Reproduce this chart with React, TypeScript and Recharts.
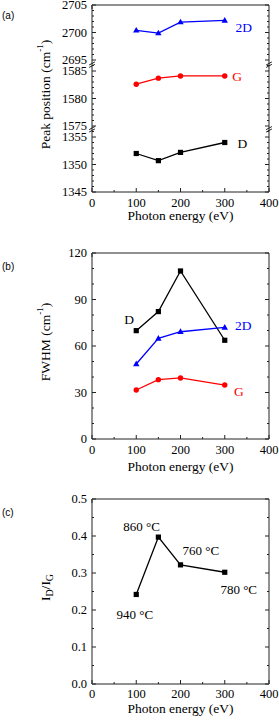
import React from 'react';
import { LineChart, Line, XAxis, YAxis, ReferenceLine, ReferenceDot, Label } from 'recharts';

// ---------- data ----------
const photonEnergy = [100, 150, 200, 300];
const peak2D = [2700.4, 2699.9, 2701.9, 2702.2];
const peakG = [1582.6, 1583.7, 1584.1, 1584.1];
const peakD = [1352.0, 1350.7, 1352.2, 1354.0];
const fwhmD = [69.9, 82.2, 108.4, 63.7];
const fwhm2D = [48.4, 64.9, 69.2, 72.0];
const fwhmG = [31.6, 38.3, 39.4, 34.8];
const ratioDG = [0.242, 0.397, 0.322, 0.302];
const growthTemps = ['940 °C', '860 °C', '760 °C', '780 °C'];

const xTicks = [0, 100, 200, 300, 400];
const xMinorTicks = [50, 150, 250, 350];
const peakTicks = [1345, 1350, 1355, 1575, 1580, 1585, 2695, 2700, 2705];
const peakMinorTicks = [
  1346, 1347, 1348, 1349, 1351, 1352, 1353, 1354, 1356,
  1576, 1577, 1578, 1579, 1581, 1582, 1583, 1584, 1586,
  2696, 2697, 2698, 2699, 2701, 2702, 2703, 2704,
];
const fwhmTicks = [0, 30, 60, 90, 120];
const fwhmMinorTicks = [10, 20, 40, 50, 70, 80, 100, 110];
const ratioTicks = [0, 0.1, 0.2, 0.3, 0.4, 0.5];
const ratioMinorTicks = [0.05, 0.15, 0.25, 0.35, 0.45];

// ---------- broken axis mapping for panel (a) ----------
const toBroken = (v: number) => (v < 1500 ? v - 1345 : v < 2000 ? v - 1563 : v - 2671);
const fromBroken = (u: number) => (u < 11.4 ? u + 1345 : u < 23.2 ? u + 1563 : u + 2671);

// ---------- styling ----------
const FONT = '"Liberation Serif", "Times New Roman", serif';
const AXIS = '#222';
const BLUE = '#0000ff';
const RED = '#ff0000';
const BLACK = '#000';
const TICK_FS = 12.5;
const TITLE_FS = 13.5;

const isIn = (arr: number[], v: number) => arr.some((m) => Math.abs(m - v) < 1e-6);

const bottomTick = (majors: number[], baseOff: number, fmt: (v: number) => string) => (props: any) => {
  const { x, y, payload } = props;
  const v = payload.value;
  const major = isIn(majors, v);
  return (
    <g>
      <line x1={x} x2={x} y1={y} y2={y - (major ? 4 : 2)} stroke={AXIS} strokeWidth={1} />
      {major && (
        <text x={x} y={y + baseOff} textAnchor="middle" fontSize={TICK_FS} fontFamily={FONT} fill="#000">
          {fmt(v)}
        </text>
      )}
    </g>
  );
};

const topTick = (majors: number[]) => (props: any) => {
  const { x, y, payload } = props;
  const major = isIn(majors, payload.value);
  return <line x1={x} x2={x} y1={y} y2={y + (major ? 4 : 2)} stroke={AXIS} strokeWidth={1} />;
};

const leftTick = (majors: number[], fmt: (v: number) => string) => (props: any) => {
  const { x, y, payload } = props;
  const v = payload.value;
  const major = isIn(majors, v);
  return (
    <g>
      <line x1={x} x2={x + (major ? 4 : 2)} y1={y} y2={y} stroke={AXIS} strokeWidth={1} />
      {major && (
        <text x={x - 5} y={y + 4.2} textAnchor="end" fontSize={TICK_FS} fontFamily={FONT} fill="#000">
          {fmt(v)}
        </text>
      )}
    </g>
  );
};

const rightTick = (majors: number[]) => (props: any) => {
  const { x, y, payload } = props;
  const major = isIn(majors, payload.value);
  return <line x1={x} x2={x - (major ? 4 : 2)} y1={y} y2={y} stroke={AXIS} strokeWidth={1} />;
};

// ---------- markers ----------
const squareDot = (color: string) => (p: any) => (
  <rect key={`s${p.index}`} x={p.cx - 2.6} y={p.cy - 2.6} width={5.2} height={5.2} fill={color} />
);
const circleDot = (color: string) => (p: any) => (
  <circle key={`c${p.index}`} cx={p.cx} cy={p.cy} r={2.7} fill={color} />
);
const triangleDot = (color: string) => (p: any) => (
  <polygon
    key={`t${p.index}`}
    points={`${p.cx},${p.cy - 3.4} ${p.cx - 3.2},${p.cy + 2.3} ${p.cx + 3.2},${p.cy + 2.3}`}
    fill={color}
  />
);

// ---------- titles ----------
const xTitle = (baseOff: number) => (props: any) => {
  const vb = props.viewBox || {};
  return (
    <text x={vb.x + vb.width / 2} y={vb.y + baseOff} textAnchor="middle" fontSize={TITLE_FS} fontFamily={FONT} fill="#000">
      Photon energy (eV)
    </text>
  );
};

const yTitle = (kind: 'peak' | 'fwhm' | 'ratio') => (props: any) => {
  const vb = props.viewBox || {};
  const cx = 45;
  const cy = vb.y + vb.height / 2 - 4;
  let content: React.ReactNode;
  if (kind === 'peak') {
    content = (
      <>
        <tspan>Peak position (cm</tspan>
        <tspan dy={-5} fontSize={9}>-1</tspan>
        <tspan dy={5}>)</tspan>
      </>
    );
  } else if (kind === 'fwhm') {
    content = (
      <>
        <tspan>FWHM (cm</tspan>
        <tspan dy={-5} fontSize={9}>-1</tspan>
        <tspan dy={5}>)</tspan>
      </>
    );
  } else {
    content = (
      <>
        <tspan>I</tspan>
        <tspan dy={3.5} fontSize={10}>D</tspan>
        <tspan dy={-3.5}>/I</tspan>
        <tspan dy={3.5} fontSize={10}>G</tspan>
      </>
    );
  }
  return (
    <text
      x={cx}
      y={cy}
      transform={`rotate(-90, ${cx}, ${cy})`}
      textAnchor="middle"
      dominantBaseline="central"
      fontSize={TITLE_FS}
      fontFamily={FONT}
      fill="#000"
    >
      {content}
    </text>
  );
};

const annot = (x: number, y: number, text: string, color: string, fs = 13.5) => (
  <ReferenceDot
    key={`${text}-${x}`}
    x={x}
    y={y}
    r={0}
    fill="none"
    stroke="none"
    isFront
    label={{ value: text, position: 'center', fill: color, fontSize: fs, fontFamily: FONT }}
  />
);

const panelLetter = (txt: string, top: number) => (
  <div
    style={{
      position: 'absolute',
      left: 2,
      top,
      fontSize: 10,
      lineHeight: '10px',
      fontFamily: '"Liberation Sans", Arial, sans-serif',
      color: '#000',
    }}
  >
    {txt}
  </div>
);

// break marks for panel (a)
const breakMarks = (u: number) => {
  const out: React.ReactNode[] = [];
  [0, 400].forEach((xa) => {
    out.push(
      <ReferenceLine
        key={`w${u}-${xa}`}
        segment={[{ x: xa, y: u - 0.25 }, { x: xa, y: u + 0.25 }]}
        stroke="#fff"
        strokeWidth={3}
        ifOverflow="visible"
      />
    );
    [-0.22, 0.22].forEach((d) => {
      out.push(
        <ReferenceLine
          key={`b${u}-${xa}-${d}`}
          segment={[{ x: xa - 6.5, y: u + d - 0.28 }, { x: xa + 6.5, y: u + d + 0.28 }]}
          stroke={AXIS}
          strokeWidth={1}
          ifOverflow="visible"
        />
      );
    });
  });
  return out;
};

const allX = [...xTicks, ...xMinorTicks].sort((a, b) => a - b);

const frameAxes = (yDomain: [number, number], yAll: number[], yMajors: number[]) => [
  <XAxis
    key="top"
    xAxisId="top"
    orientation="top"
    type="number"
    domain={[0, 400]}
    ticks={allX}
    interval={0}
    allowDataOverflow
    height={1}
    tickSize={0}
    tickMargin={0}
    stroke={AXIS}
    tick={topTick(xTicks)}
  />,
  <YAxis
    key="right"
    yAxisId="right"
    orientation="right"
    type="number"
    domain={yDomain}
    ticks={yAll}
    interval={0}
    allowDataOverflow
    width={1}
    tickSize={0}
    tickMargin={0}
    stroke={AXIS}
    tick={rightTick(yMajors)}
  />,
];

export default function App() {
  const dataA = photonEnergy.map((e, i) => ({
    e,
    d: toBroken(peakD[i]),
    g: toBroken(peakG[i]),
    t: toBroken(peak2D[i]),
  }));
  const dataB = photonEnergy.map((e, i) => ({ e, d: fwhmD[i], t: fwhm2D[i], g: fwhmG[i] }));
  const dataC = photonEnergy.map((e, i) => ({ e, r: ratioDG[i] }));

  const peakMajorU = peakTicks.map(toBroken);
  const peakAllU = [...peakTicks, ...peakMinorTicks].map(toBroken).sort((a, b) => a - b);
  const fwhmAll = [...fwhmTicks, ...fwhmMinorTicks].sort((a, b) => a - b);
  const ratioAll = [...ratioTicks, ...ratioMinorTicks].sort((a, b) => a - b);

  const intFmt = (v: number) => String(Math.round(v));

  return (
    <div style={{ position: 'absolute', left: 0, top: 0, width: 279, height: 724, background: '#fff' }}>
      {/* Panel (a) */}
      <div style={{ position: 'relative', width: 279, height: 240 }}>
        {panelLetter('(a)', 11)}
        <LineChart width={279} height={240} data={dataA} margin={{ top: 4, right: 9, bottom: 0, left: 0 }}>
          <XAxis
            dataKey="e"
            type="number"
            domain={[0, 400]}
            ticks={allX}
            interval={0}
            allowDataOverflow
            height={48}
            tickSize={0}
            tickMargin={0}
            stroke={AXIS}
            tick={bottomTick(xTicks, 15, intFmt)}
          >
            <Label content={xTitle(28)} />
          </XAxis>
          <YAxis
            type="number"
            domain={[0, 34]}
            ticks={peakAllU}
            interval={0}
            allowDataOverflow
            width={92}
            tickSize={0}
            tickMargin={0}
            stroke={AXIS}
            tick={leftTick(peakMajorU, (u) => intFmt(fromBroken(u)))}
          >
            <Label content={yTitle('peak')} />
          </YAxis>
          {frameAxes([0, 34], peakAllU, peakMajorU)}
          {breakMarks(11.4)}
          {breakMarks(23.15)}
          <Line dataKey="t" stroke={BLUE} strokeWidth={1.3} dot={triangleDot(BLUE)} isAnimationActive={false} />
          <Line dataKey="g" stroke={RED} strokeWidth={1.3} dot={circleDot(RED)} isAnimationActive={false} />
          <Line dataKey="d" stroke={BLACK} strokeWidth={1.3} dot={squareDot(BLACK)} isAnimationActive={false} />
          {annot(343, toBroken(2700.95), '2D', BLUE)}
          {annot(328, toBroken(1584.04), 'G', RED)}
          {annot(340, toBroken(1353.85), 'D', BLACK)}
        </LineChart>
      </div>

      {/* Panel (b) */}
      <div style={{ position: 'relative', width: 279, height: 240 }}>
        {panelLetter('(b)', 22)}
        <LineChart width={279} height={240} data={dataB} margin={{ top: 12, right: 9, bottom: 0, left: 0 }}>
          <XAxis
            dataKey="e"
            type="number"
            domain={[0, 400]}
            ticks={allX}
            interval={0}
            allowDataOverflow
            height={41}
            tickSize={0}
            tickMargin={0}
            stroke={AXIS}
            tick={bottomTick(xTicks, 15, intFmt)}
          >
            <Label content={xTitle(32)} />
          </XAxis>
          <YAxis
            type="number"
            domain={[0, 120]}
            ticks={fwhmAll}
            interval={0}
            allowDataOverflow
            width={92}
            tickSize={0}
            tickMargin={0}
            stroke={AXIS}
            tick={leftTick(fwhmTicks, intFmt)}
          >
            <Label content={yTitle('fwhm')} />
          </YAxis>
          {frameAxes([0, 120], fwhmAll, fwhmTicks)}
          <Line dataKey="d" stroke={BLACK} strokeWidth={1.3} dot={squareDot(BLACK)} isAnimationActive={false} />
          <Line dataKey="t" stroke={BLUE} strokeWidth={1.3} dot={triangleDot(BLUE)} isAnimationActive={false} />
          <Line dataKey="g" stroke={RED} strokeWidth={1.3} dot={circleDot(RED)} isAnimationActive={false} />
          {annot(84, 77, 'D', BLACK)}
          {annot(342, 73.7, '2D', BLUE)}
          {annot(332, 30.7, 'G', RED)}
        </LineChart>
      </div>

      {/* Panel (c) */}
      <div style={{ position: 'relative', width: 279, height: 244 }}>
        {panelLetter('(c)', 28)}
        <LineChart width={279} height={244} data={dataC} margin={{ top: 18, right: 9, bottom: 0, left: 0 }}>
          <XAxis
            dataKey="e"
            type="number"
            domain={[0, 400]}
            ticks={allX}
            interval={0}
            allowDataOverflow
            height={40}
            tickSize={0}
            tickMargin={0}
            stroke={AXIS}
            tick={bottomTick(xTicks, 13.5, intFmt)}
          >
            <Label content={xTitle(29)} />
          </XAxis>
          <YAxis
            type="number"
            domain={[0, 0.5]}
            ticks={ratioAll}
            interval={0}
            allowDataOverflow
            width={92}
            tickSize={0}
            tickMargin={0}
            stroke={AXIS}
            tick={leftTick(ratioTicks, (v) => v.toFixed(1))}
          >
            <Label content={yTitle('ratio')} />
          </YAxis>
          {frameAxes([0, 0.5], ratioAll, ratioTicks)}
          <Line dataKey="r" stroke={BLACK} strokeWidth={1.3} dot={squareDot(BLACK)} isAnimationActive={false} />
          {annot(97, 0.188, growthTemps[0], BLACK, 13)}
          {annot(112, 0.427, growthTemps[1], BLACK, 13)}
          {annot(246, 0.362, growthTemps[2], BLACK, 13)}
          {annot(331.5, 0.256, growthTemps[3], BLACK, 13)}
        </LineChart>
      </div>
    </div>
  );
}
